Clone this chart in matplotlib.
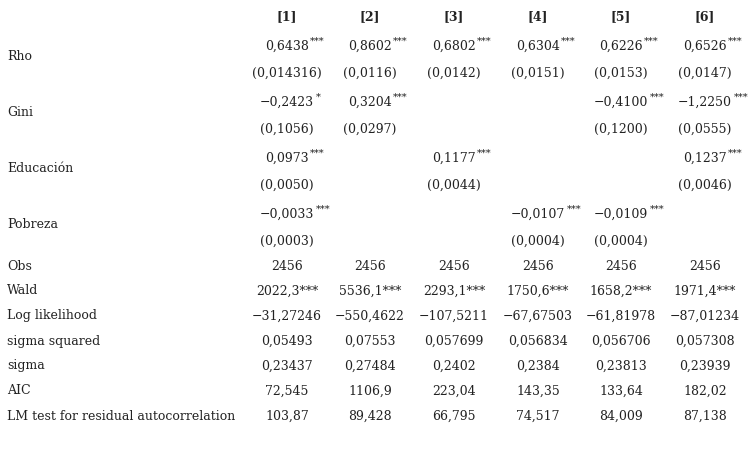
import matplotlib
matplotlib.use("Agg")
import matplotlib.pyplot as plt
from matplotlib.text import Annotation

headers = ["[1]", "[2]", "[3]", "[4]", "[5]", "[6]"]
var_names = ["Rho", "Gini", "Educación", "Pobreza"]
coefs = [
    ["0,6438", "0,8602", "0,6802", "0,6304", "0,6226", "0,6526"],
    ["−0,2423", "0,3204", "", "", "−0,4100", "−1,2250"],
    ["0,0973", "", "0,1177", "", "", "0,1237"],
    ["−0,0033", "", "", "−0,0107", "−0,0109", ""],
]
stars = [
    ["***"] * 6,
    ["*", "***", "", "", "***", "***"],
    ["***", "", "***", "", "", "***"],
    ["***", "", "", "***", "***", ""],
]
ses = [
    ["(0,014316)", "(0,0116)", "(0,0142)", "(0,0151)", "(0,0153)", "(0,0147)"],
    ["(0,1056)", "(0,0297)", "", "", "(0,1200)", "(0,0555)"],
    ["(0,0050)", "", "(0,0044)", "", "", "(0,0046)"],
    ["(0,0003)", "", "", "(0,0004)", "(0,0004)", ""],
]
stat_names = ["Obs", "Wald", "Log likelihood", "sigma squared", "sigma", "AIC",
              "LM test for residual autocorrelation"]
stats = [
    ["2456"] * 6,
    ["2022,3***", "5536,1***", "2293,1***", "1750,6***", "1658,2***", "1971,4***"],
    ["−31,27246", "−550,4622", "−107,5211", "−67,67503", "−61,81978", "−87,01234"],
    ["0,05493", "0,07553", "0,057699", "0,056834", "0,056706", "0,057308"],
    ["0,23437", "0,27484", "0,2402", "0,2384", "0,23813", "0,23939"],
    ["72,545", "1106,9", "223,04", "143,35", "133,64", "182,02"],
    ["103,87", "89,428", "66,795", "74,517", "84,009", "87,138"],
]

W, H = 750, 449
fig = plt.figure(figsize=(W / 100, H / 100), dpi=100)
fig.patch.set_facecolor("white")
fam = ["DejaVu Serif"]
fs = 9.0
col_x = [287, 370, 454, 538, 621, 705]

def T(x, y, s, **kw):
    kw.setdefault("fontsize", fs)
    kw.setdefault("family", fam)
    kw.setdefault("va", "center")
    return fig.text(x / W, 1 - y / H, s, color="#222222", **kw)

for x, h in zip(col_x, headers):
    T(x, 17, h, ha="center", fontweight="bold")

for i, name in enumerate(var_names):
    base = 46 + i * 56
    T(7, base + 11, name, ha="left")
    for j in range(6):
        if coefs[i][j]:
            t = T(col_x[j], base, coefs[i][j], ha="center")
            if stars[i][j]:
                a = Annotation(stars[i][j], xy=(1, 1), xycoords=t, xytext=(1, 2),
                               textcoords="offset points", ha="left", va="top",
                               fontsize=7, family=fam, color="#222222",
                               annotation_clip=False)
                fig.add_artist(a)
        if ses[i][j]:
            T(col_x[j], base + 27, ses[i][j], ha="center")

for k, name in enumerate(stat_names):
    y = 266 + k * 25
    T(7, y, name, ha="left")
    for j in range(6):
        T(col_x[j], y, stats[k][j], ha="center")

fig.savefig("out.png", dpi=100, facecolor="white")
